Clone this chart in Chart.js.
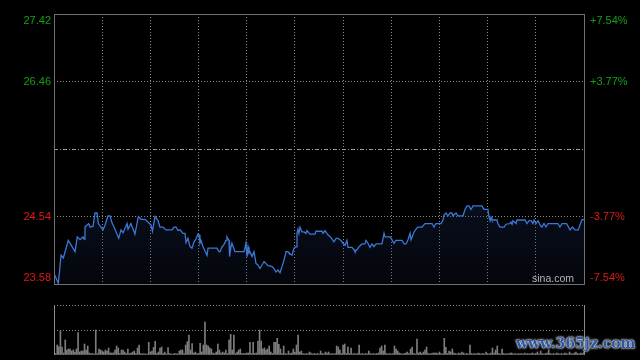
<!DOCTYPE html>
<html><head><meta charset="utf-8">
<script src="https://cdn.jsdelivr.net/npm/chart.js@4.4.1/dist/chart.umd.min.js"></script>
<style>
html,body{margin:0;padding:0;background:#000;width:640px;height:360px;overflow:hidden;}
canvas{position:absolute;left:0;top:0;}
#sina{position:absolute;left:532px;top:272px;font:10.5px "Liberation Sans",Arial,sans-serif;color:#b4b4b4;}
#wm{position:absolute;left:516px;top:335px;font:bold 14px "DejaVu Serif",serif;color:#2b56a3;letter-spacing:0px;
 text-shadow:0 0 1px #fff,0 0 2px #eee,0 0 3px #ccc;}
</style></head><body>
<canvas id="main" width="640" height="360"></canvas>
<canvas id="vol" width="640" height="360"></canvas>
<div id="sina">sina.com</div>
<div id="wm">www.365jz.com</div>
<script>
// ---- data ----
const prevClose = 25.50;
const priceTicks = [23.58, 24.54, 25.50, 26.46, 27.42];
const leftLabels = ['23.58', '24.54', '', '26.46', '27.42'];
const rightLabels = ['-7.54%', '-3.77%', '', '+3.77%', '+7.54%'];
const timeTicks = [0, 30, 60, 90, 120, 150, 180, 210, 240, 270, 300, 330]; // minutes of the trading day
const times = [0,2.7,4.4,5.8,8.9,13.1,14.5,16.2,18.1,18.7,19.3,21.6,22.4,24.3,25.5,26.8,27.6,30.5,31.8,33.6,34.9,36.1,37.4,40.3,41.7,43.0,45.5,46.1,47.9,50.4,52.5,54.2,56.7,60.4,61.3,62.9,64.8,66.0,67.9,69.7,73.5,74.7,76.0,77.2,78.5,80.3,81.6,82.2,83.4,84.7,85.9,87.2,88.4,89.7,90.3,90.9,91.5,92.1,92.8,95.3,95.9,101.5,102.7,103.4,104.6,105.8,107.1,107.7,109.0,109.3,110.2,110.8,112.7,118.3,118.9,119.5,120.2,120.8,121.4,122.0,123.3,124.5,125.8,127.0,128.3,129.5,130.8,133.2,135.7,137.0,138.2,139.5,140.7,142.0,143.2,144.5,145.7,146.3,148.2,149.4,150.7,151.3,151.9,152.5,153.2,154.4,155.7,156.9,157.5,159.4,162.5,163.1,166.9,167.5,168.7,170.6,172.5,174.3,175.6,176.8,178.7,179.9,181.2,182.4,183.1,185.5,186.8,187.4,188.7,189.9,191.8,193.6,194.3,195.5,196.7,198.0,199.2,200.5,204.2,205.5,206.1,209.2,210.4,211.7,212.9,216.7,217.9,219.2,220.4,221.7,222.3,224.2,225.4,226.6,229.1,231.0,235.4,236.6,237.8,241.0,242.2,242.8,244.1,245.3,246.6,247.8,248.4,250.3,251.5,254.7,255.9,257.1,258.4,259.6,260.9,266.5,267.7,270.2,270.8,271.5,272.1,272.7,275.8,276.4,277.7,280.2,281.4,283.9,284.5,285.2,285.8,287.7,288.3,293.3,294.5,295.8,297.0,298.2,298.9,300.1,301.4,302.6,303.8,305.1,306.3,307.6,313.8,315.0,316.3,319.2,321.3,322.9,324.4,326.4,328.6,330];
const prices = [23.73,23.59,23.99,23.95,24.20,24.04,24.25,24.21,24.25,24.22,24.39,24.44,24.39,24.40,24.59,24.59,24.44,24.35,24.42,24.55,24.55,24.45,24.39,24.23,24.35,24.31,24.44,24.36,24.44,24.29,24.54,24.50,24.50,24.42,24.33,24.54,24.48,24.39,24.39,24.35,24.35,24.39,24.39,24.34,24.35,24.30,24.30,24.17,24.23,24.11,24.09,24.18,24.22,24.29,24.28,24.16,24.20,24.16,24.11,23.99,24.09,24.09,24.04,24.04,24.11,24.14,24.20,24.25,24.20,23.97,24.11,24.16,24.04,24.04,24.09,24.16,23.97,24.11,24.02,24.04,23.97,24.04,23.87,23.85,23.80,23.85,23.90,23.84,23.83,23.80,23.75,23.78,23.74,23.83,23.92,24.04,24.04,24.02,23.99,24.09,24.11,24.30,24.36,24.30,24.39,24.32,24.32,24.30,24.34,24.29,24.29,24.33,24.33,24.30,24.34,24.28,24.24,24.18,24.23,24.23,24.20,24.16,24.13,24.20,24.10,24.10,24.07,24.04,24.07,24.11,24.15,24.15,24.20,24.16,24.10,24.15,24.11,24.15,24.15,24.30,24.25,24.25,24.21,24.16,24.20,24.20,24.15,24.15,24.21,24.30,24.21,24.32,24.36,24.39,24.39,24.44,24.44,24.39,24.44,24.44,24.49,24.56,24.59,24.55,24.59,24.59,24.55,24.59,24.55,24.55,24.64,24.69,24.69,24.64,24.69,24.69,24.64,24.64,24.54,24.48,24.53,24.49,24.49,24.44,24.39,24.39,24.43,24.44,24.46,24.43,24.48,24.44,24.49,24.49,24.44,24.48,24.48,24.44,24.49,24.44,24.48,24.42,24.39,24.44,24.39,24.44,24.44,24.39,24.44,24.44,24.35,24.39,24.35,24.35,24.49,24.50];
// volume per minute, index = minute of the trading day (0..330)
const volumes = [
5000,150,1000,830,2430,800,200,1500,500,600,
600,400,500,300,600,2230,300,400,400,1100,
500,900,200,150,150,100,2500,150,600,500,
400,300,500,400,700,200,200,200,500,900,
700,150,500,500,300,150,600,150,200,300,
400,150,700,1000,150,100,150,100,100,1270,
300,400,770,1370,150,300,700,800,150,300,
100,730,150,100,100,150,150,100,400,500,
500,150,1000,1330,2000,500,1130,200,300,150,
150,1170,300,1000,3300,1000,900,700,600,200,
150,300,1100,500,200,300,200,500,150,1500,
2070,500,2000,150,300,500,600,150,150,150,
200,200,1270,150,1270,150,200,1400,2500,1400,
600,700,500,600,900,300,150,1270,1270,1670,
1070,600,150,900,150,100,400,150,200,600,
300,1000,2000,300,400,150,100,150,100,300,
200,100,150,100,150,100,400,150,100,300,
200,300,100,150,100,150,900,800,500,150,
1000,1100,150,800,150,700,100,150,100,150,
1000,100,150,100,150,100,400,150,100,150,
100,150,200,700,900,400,1000,150,100,150,
100,150,900,600,400,200,150,100,150,200,
300,150,600,800,150,100,1600,200,300,150,
300,500,800,150,100,150,200,200,200,150,
300,150,100,1670,770,150,400,300,600,200,
150,100,200,150,300,200,100,150,100,1000,
150,100,150,100,200,150,100,150,100,300,
150,100,200,700,200,500,900,150,100,600,
150,100,150,100,200,200,100,150,100,150,
100,150,100,200,100,150,100,150,200,100,
150,300,100,400,150,100,150,200,500,150,
100,150,100,200,150,100,150,100,200,150,
100,300,150,100,200,300,150,100,200,150,
300];

// ---- style ----
const GREEN = '#14a014', RED = '#e01818';
const GRID = '#8a8a8a', FRAME = '#707070';
const FONT = '11px "Liberation Sans", Arial, sans-serif';

const mainFrame = {
  id: 'mainFrame',
  afterDraw(chart) {
    const { ctx, chartArea: a } = chart;
    const ys = chart.scales.y;
    ctx.save();
    const ym = Math.round(ys.getPixelForValue(prevClose)) + 0.5;
    ctx.strokeStyle = '#9a9a9a'; ctx.lineWidth = 1; ctx.setLineDash([4, 2, 1, 2]);
    ctx.beginPath(); ctx.moveTo(a.left, ym); ctx.lineTo(a.right, ym); ctx.stroke();
    ctx.setLineDash([]);
    ctx.strokeStyle = FRAME;
    ctx.strokeRect(Math.round(a.left) + 0.5, Math.round(a.top) + 0.5, Math.round(a.right - a.left), Math.round(a.bottom - a.top));
    ctx.font = FONT; ctx.textBaseline = 'middle';
    priceTicks.forEach((v, i) => {
      if (!leftLabels[i]) return;
      let y = ys.getPixelForValue(v);
      y = Math.min(Math.max(y, a.top + 6.5), a.bottom - 6);
      ctx.fillStyle = v > prevClose ? GREEN : RED;
      ctx.textAlign = 'right'; ctx.fillText(leftLabels[i], a.left - 3, y);
      ctx.textAlign = 'left'; ctx.fillText(rightLabels[i], a.right + 6, y);
    });
    ctx.restore();
  }
};

new Chart(document.getElementById('main'), {
  type: 'line',
  data: { datasets: [{
    data: times.map((t, i) => ({ x: t, y: prices[i] })),
    borderColor: '#3b78d6', borderWidth: 1.3, pointRadius: 0, tension: 0,
    fill: 'start',
    backgroundColor(c) {
      const chart = c.chart, a = chart.chartArea;
      if (!a) return 'rgba(0,0,0,0)';
      const g = chart.ctx.createLinearGradient(0, chart.scales.y.getPixelForValue(Math.max(...prices)), 0, a.bottom);
      g.addColorStop(0, 'rgba(30,45,90,0.32)');
      g.addColorStop(1, 'rgba(30,45,90,0.12)');
      return g;
    }
  }]},
  options: {
    responsive: false, animation: false, events: [],
    layout: { padding: { top: 14, bottom: 76, left: 0, right: 56 } },
    plugins: { legend: { display: false }, tooltip: { enabled: false } },
    scales: {
      x: { type: 'linear', min: 0, max: 330,
        afterBuildTicks(s) { s.ticks = timeTicks.map(v => ({ value: v })); },
        grid: { color: GRID, drawTicks: false, lineWidth: 1 },
        border: { display: false, dash: [1, 2] },
        ticks: { display: false },
        afterFit(s) { s.height = 0; } },
      y: { min: priceTicks[0], max: priceTicks[priceTicks.length - 1],
        afterBuildTicks(s) { s.ticks = priceTicks.map(v => ({ value: v })); },
        grid: { color: c => (c.tick && c.tick.value === prevClose) ? 'rgba(0,0,0,0)' : GRID, drawTicks: false },
        border: { display: false, dash: [1, 2] },
        ticks: { display: false },
        afterFit(s) { s.width = 54; } }
    }
  },
  plugins: [mainFrame]
});

const volMax = Math.max(...volumes);
const volFrame = {
  id: 'volFrame',
  afterDraw(chart) {
    const { ctx, chartArea: a } = chart;
    ctx.save();
    ctx.strokeStyle = GRID; ctx.lineWidth = 1;
    ctx.beginPath();
    ctx.moveTo(Math.round(a.left) + 0.5, a.top); ctx.lineTo(Math.round(a.left) + 0.5, a.bottom);
    ctx.moveTo(Math.round(a.right) + 0.5, a.top); ctx.lineTo(Math.round(a.right) + 0.5, a.bottom);
    ctx.stroke();
    ctx.restore();
  }
};

new Chart(document.getElementById('vol'), {
  type: 'bar',
  data: { datasets: [{
    data: volumes.map((v, i) => ({ x: i, y: v })),
    backgroundColor: '#7c7c7c', borderWidth: 0, barThickness: 1
  }]},
  options: {
    responsive: false, animation: false, events: [],
    layout: { padding: { top: 305, bottom: 5, left: 0, right: 56 } },
    plugins: { legend: { display: false }, tooltip: { enabled: false } },
    scales: {
      x: { type: 'linear', min: 0, max: 330, offset: false, display: false },
      y: { min: 0, max: volMax,
        afterBuildTicks(s) { s.ticks = [0, volMax / 2, volMax].map(v => ({ value: v })); },
        grid: { color: c => (c.tick && c.tick.value === 0) ? 'rgba(0,0,0,0)' : GRID, drawTicks: false },
        border: { display: false, dash: [1, 2] },
        ticks: { display: false },
        afterFit(s) { s.width = 54; } }
    }
  },
  plugins: [volFrame]
});
</script>
</body></html>
